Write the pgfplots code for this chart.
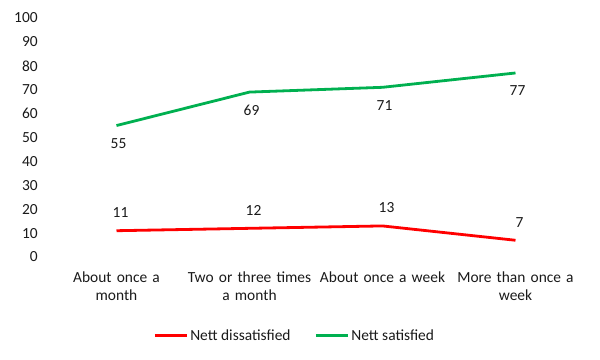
\documentclass[border=0pt]{standalone}
\usepackage{pgfplots}
\pgfplotsset{compat=1.18}
\usepackage{fontspec}
\setmainfont{Carlito}
\definecolor{cred}{HTML}{FF0000}
\definecolor{cgreen}{HTML}{00B050}
\definecolor{ctext}{HTML}{1A1A1A}
\begin{document}
\fontsize{15.5}{18.5}\selectfont
\begin{tikzpicture}
\begin{axis}[
  name=ax,
  scale only axis,
  width=532bp, height=239bp,
  xmin=-0.5, xmax=3.5,
  ymin=0, ymax=100,
  ytick={0,10,...,100},
  xtick={0,1,2,3},
  xticklabels={{About once a\\month},{Two or three times\\a month},{About once a week},{More than once a\\week}},
  xticklabel style={align=center, text width=140bp, anchor=north, yshift=-9bp, font=\fontsize{15.5}{19}\selectfont, text=ctext},
  yticklabel style={anchor=east, xshift=-7bp, text=ctext, font=\fontsize{15.5}{18.5}\selectfont},
  /pgf/number format/assume math mode=true,
  axis line style={draw=none},
  major tick length=0pt,
  clip=false,
  legend columns=2,
  legend style={draw=none, at={(0.46,-0.33)}, anchor=center, font=\fontsize{15.5}{18.5}\selectfont, text=ctext,
    /tikz/every even column/.append style={column sep=22bp}},
  legend image code/.code={\draw[#1] (0bp,0bp) -- (32bp,0bp);},
  nodes near coords,
  every node near coord/.append style={font=\fontsize{15.5}{18.5}\selectfont, text=ctext, anchor=center},
]
\addplot[cred, line width=2.8bp, mark=none, nodes near coords style={yshift=18bp, xshift=4bp}] coordinates {(0,11) (1,12) (2,13) (3,7)};
\addlegendentry{Nett dissatisfied}
\addplot[cgreen, line width=2.8bp, mark=none, nodes near coords style={yshift=-18bp, xshift=2bp}] coordinates {(0,55) (1,69) (2,71) (3,77)};
\addlegendentry{Nett satisfied}
\end{axis}
\path[use as bounding box] ([xshift=-50bp,yshift=-103bp]ax.south west) rectangle ([xshift=18bp,yshift=18bp]ax.north east);
\end{tikzpicture}
\end{document}
